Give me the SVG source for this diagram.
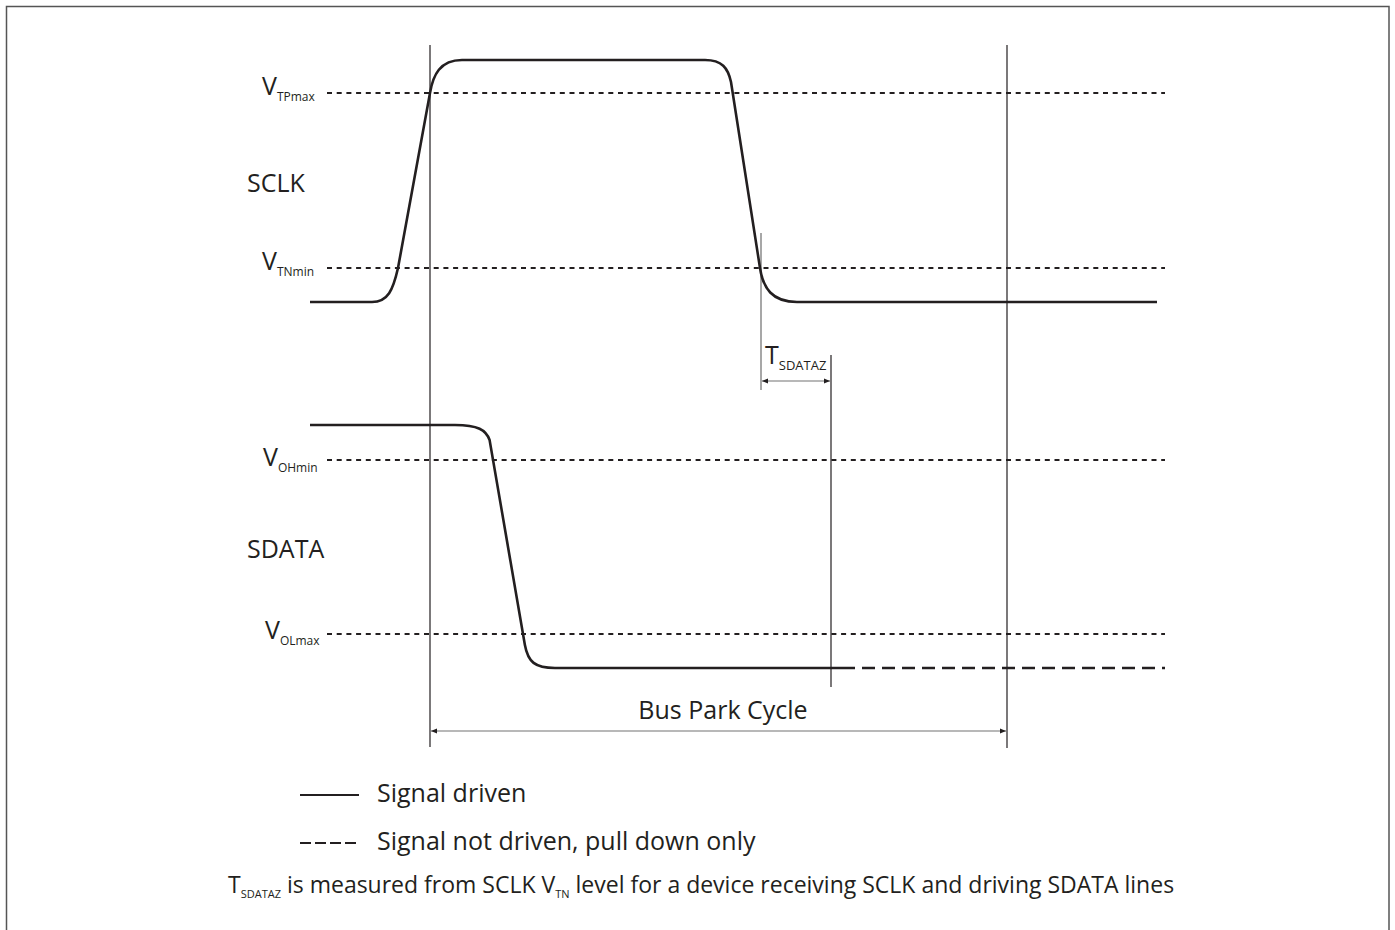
<svg xmlns="http://www.w3.org/2000/svg" width="1395" height="930" viewBox="0 0 1395 930">
<style>
text{font-family:"Open Sans","Liberation Sans",sans-serif;fill:#231f20}
.big{font-size:25px}
.sub{font-size:12px}
.wave{fill:none;stroke:#231f20;stroke-width:2.6}
.dot{fill:none;stroke:#231f20;stroke-width:2.2;stroke-dasharray:5 4.7}
.vl{stroke:#231f20;stroke-width:1.2}
.dim{stroke:#a0a0a0;stroke-width:1.5;fill:none}
</style>
<defs>
<marker id="ah" viewBox="0 0 10 10" refX="10" refY="5" markerWidth="9" markerHeight="6" markerUnits="userSpaceOnUse" orient="auto-start-reverse">
<path d="M0,1 L10,5 L0,9 Z" fill="#231f20"/>
</marker>
</defs>
<rect x="6.5" y="6.5" width="1382.5" height="930" fill="#fff" stroke="#555" stroke-width="1.5"/>

<g id="levels">
<line class="dot" x1="327" y1="93" x2="1165" y2="93"/>
<line class="dot" x1="327" y1="268" x2="1165" y2="268"/>
<line class="dot" x1="327" y1="460" x2="1165" y2="460"/>
<line class="dot" x1="327" y1="634" x2="1165" y2="634"/>
</g>

<g id="labels">
<text x="262" y="95" class="big">V<tspan class="sub" dy="6">TPmax</tspan></text>
<text x="262" y="270" class="big">V<tspan class="sub" dy="6">TNmin</tspan></text>
<text x="263" y="466" class="big">V<tspan class="sub" dy="6">OHmin</tspan></text>
<text x="265" y="639" class="big">V<tspan class="sub" dy="6">OLmax</tspan></text>
<text x="247" y="192" class="big">SCLK</text>
<text x="247" y="558" class="big">SDATA</text>
</g>

<g id="connectors">
<line class="vl" x1="430" y1="45" x2="430" y2="747"/>
<line class="vl" x1="1007" y1="45" x2="1007" y2="748"/>
<line x1="761" y1="233" x2="761" y2="390" stroke="#8a8a8a" stroke-width="1.5"/>
<line class="vl" x1="831" y1="355" x2="831" y2="687"/>
<line class="dim" x1="762" y1="381" x2="830" y2="381" marker-start="url(#ah)" marker-end="url(#ah)"/>
<line class="dim" x1="431" y1="731" x2="1006" y2="731" marker-start="url(#ah)" marker-end="url(#ah)"/>
</g>

<g id="sclk">
<path class="wave" d="M310,302 H372 C388,302 393,290 398,268 L430,93 C433,75 440,60 462,60 H705 C722,60 728,68 731,82 L760,268 C763,288 772,302 797,302 H1157"/>
</g>

<g id="sdata">
<path class="wave" d="M310,425 H455 C478,425 486,430 489.6,440 L524.9,645 C528,662 535,668 555,668 H842"/>
<path class="wave" d="M842,668 H1165" stroke-dasharray="13 7"/>
</g>

<g id="tsdataz">
<text x="765" y="364" style="font-size:25px">T<tspan class="sub" dy="6" style="font-size:13px">SDATAZ</tspan></text>
</g>

<g id="buspark">
<text x="723" y="719" class="big" text-anchor="middle">Bus Park Cycle</text>
</g>

<g id="legend">
<line x1="300" y1="795" x2="359" y2="795" stroke="#231f20" stroke-width="2"/>
<text x="377" y="802" class="big">Signal driven</text>
<line x1="300" y1="843" x2="359" y2="843" stroke="#231f20" stroke-width="2" stroke-dasharray="11 4"/>
<text x="377" y="850" class="big">Signal not driven, pull down only</text>
</g>

<g id="footnote">
<text x="228" y="893" style="font-size:23px">T<tspan dy="5" style="font-size:11px">SDATAZ</tspan><tspan dy="-5"> is measured from SCLK V</tspan><tspan dy="5" style="font-size:11px">TN</tspan><tspan dy="-5"> level for a device receiving SCLK and driving SDATA lines</tspan></text>
</g>
</svg>
